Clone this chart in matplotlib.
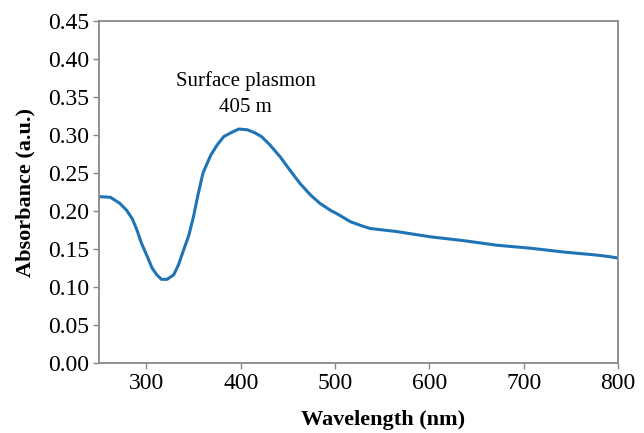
import matplotlib
matplotlib.use("Agg")
import matplotlib.pyplot as plt

# absorbance spectrum
wavelength = [250, 262, 272, 279, 285, 290, 295, 301, 306, 311, 316, 322,
              329, 334, 339, 345, 350, 355, 360, 368, 375, 382, 391, 398,
              407, 415, 422, 431, 442, 452, 463, 474, 484, 495, 504, 516,
              527, 537, 565, 601, 636, 671, 707, 742, 777, 790, 800]
absorbance = [0.219, 0.218, 0.210, 0.201, 0.190, 0.175, 0.157, 0.140, 0.125,
              0.116, 0.110, 0.110, 0.116, 0.129, 0.147, 0.168, 0.193, 0.223,
              0.250, 0.273, 0.287, 0.298, 0.304, 0.308, 0.307, 0.303, 0.298,
              0.287, 0.271, 0.254, 0.236, 0.221, 0.210, 0.201, 0.195, 0.186,
              0.181, 0.177, 0.173, 0.166, 0.161, 0.155, 0.151, 0.146, 0.142,
              0.140, 0.138]

x_ticks = [300, 400, 500, 600, 700, 800]
y_ticks = [0.00, 0.05, 0.10, 0.15, 0.20, 0.25, 0.30, 0.35, 0.40, 0.45]

plt.rcParams['font.family'] = ['Liberation Serif', 'DejaVu Serif']

fig = plt.figure(figsize=(6.44, 4.33), dpi=100)
ax = fig.add_axes([0.154, 0.162, 0.806, 0.789])

ax.plot(wavelength, absorbance, color="#1f74b5", linewidth=2.2)

ax.set_xlim(250, 800)
ax.set_ylim(0, 0.45)
ax.set_xticks(x_ticks)
ax.set_yticks(y_ticks)
ax.set_yticklabels(["%.2f" % v for v in y_ticks])
ax.tick_params(labelsize=17, length=4, color="#888888", width=1)

for s in ax.spines.values():
    s.set_color("#888888")
    s.set_linewidth(1.3)

ax.set_xlabel("Wavelength (nm)", fontsize=16, fontweight="bold")
ax.xaxis.set_label_coords(0.547, -0.138)
ax.set_ylabel("Absorbance (a.u.)", fontsize=16, fontweight="bold", labelpad=9)

ax.text(405, 0.354, "Surface plasmon\n405 m", ha="center", va="center",
        fontsize=15, linespacing=1.45)

fig.savefig("out.png", dpi=100)
